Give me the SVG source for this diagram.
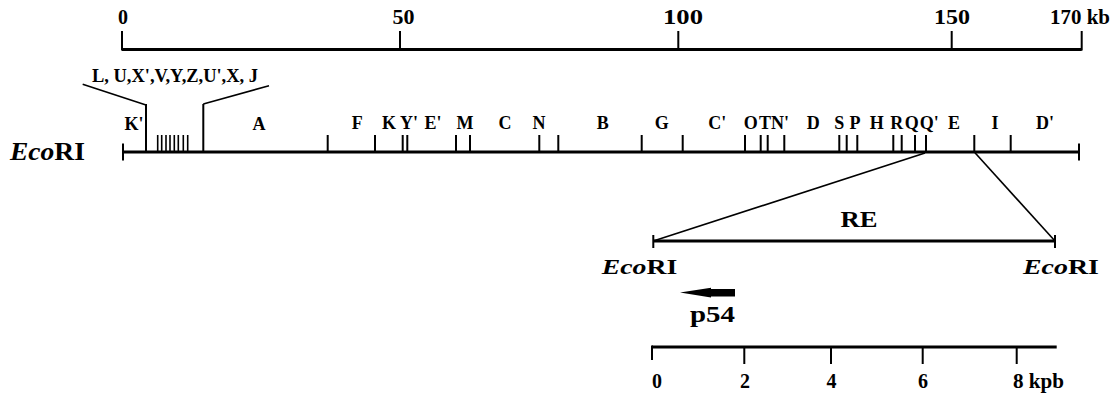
<svg xmlns="http://www.w3.org/2000/svg" width="1120" height="398" viewBox="0 0 1120 398">
  <style>
    .bar { stroke:#000; stroke-width:2.8; fill:none; stroke-linecap:butt; }
    .tick { stroke:#000; stroke-width:2; fill:none; }
    .fine { stroke:#000; stroke-width:1.6; fill:none; }
    .conn { stroke:#000; stroke-width:1.6; fill:none; }
    .lbl { font-family:"Liberation Serif","Times New Roman",serif; font-weight:bold; fill:#000; }
    .frag { font-size:18px; text-anchor:middle; }
    .num { font-size:22px; }
    .numb { font-size:20px; }
  </style>
  <rect width="1120" height="398" fill="#fff"/>

  <!-- genome coordinate scale, 0 to 170 kb -->
  <g id="scale-kb">
    <path class="bar" d="M122 49.5H1081.7"/>
    <path class="tick" d="M122 31V50.5M400 31V50.5M678.3 31V50.5M951.7 31V50.5M1081.7 31V50.5"/>
    <text class="lbl num" x="118" y="23.5" textLength="10" lengthAdjust="spacingAndGlyphs">0</text>
    <text class="lbl num" x="392.5" y="23.5" textLength="22" lengthAdjust="spacingAndGlyphs">50</text>
    <text class="lbl num" x="663" y="23.5" textLength="40" lengthAdjust="spacingAndGlyphs">100</text>
    <text class="lbl num" x="934" y="23.5" textLength="36" lengthAdjust="spacingAndGlyphs">150</text>
    <text class="lbl num" x="1050" y="23.5" textLength="60" lengthAdjust="spacingAndGlyphs">170 kb</text>
  </g>

  <!-- EcoRI restriction map -->
  <g id="ecori-map">
    <text class="lbl" x="10" y="160" font-size="25" textLength="75" lengthAdjust="spacingAndGlyphs"><tspan font-style="italic">Eco</tspan>RI</text>
    <path class="bar" d="M122.5 152H1079.5"/>
    <path class="tick" d="M123 143.5V160.5M1079 143.5V160.5"/>
    <!-- cluster of small fragments -->
    <path class="tick" d="M146 104V152M203.3 104V152"/>
    <path class="fine" d="M157.7 135V152M161.7 135V152M166 135V152M170 135V152M174.3 135V152M178.3 135V152M183.3 135V152M187.7 135V152"/>
    <!-- fragment boundaries -->
    <path class="tick" d="M327.7 135V152M375 135V152M402.7 135V152M407.3 135V152M456 135V152M470 135V152M539.3 135V152M558.3 135V152M641.7 135V152M682.7 135V152M745 135V152M760.7 135V152M767.7 135V152M784.3 135V152M839.3 135V152M846.7 135V152M857.3 135V152M893.3 135V152M901.7 135V152M915 135V152M926 135V152M974.3 135V152M1010.7 135V152"/>
  </g>

  <!-- fragment names -->
  <g id="fragment-labels" class="lbl frag">
    <text x="92" y="81.5" font-size="19" text-anchor="start" textLength="166" lengthAdjust="spacingAndGlyphs">L, U,X',V,Y,Z,U',X, J</text>
    <text x="134" y="130">K'</text>
    <text x="259" y="130">A</text>
    <text x="357.3" y="129">F</text>
    <text x="389" y="129">K</text>
    <text x="409" y="129">Y'</text>
    <text x="433" y="129">E'</text>
    <text x="465" y="129">M</text>
    <text x="505" y="129">C</text>
    <text x="539" y="129">N</text>
    <text x="602.7" y="129">B</text>
    <text x="661.7" y="129">G</text>
    <text x="717.3" y="129">C'</text>
    <text x="750.7" y="129">O</text>
    <text x="765" y="129">T</text>
    <text x="780" y="129">N'</text>
    <text x="813.3" y="129">D</text>
    <text x="839.3" y="129">S</text>
    <text x="855" y="129">P</text>
    <text x="876.7" y="129">H</text>
    <text x="896.7" y="129">R</text>
    <text x="911.7" y="129">Q</text>
    <text x="929.3" y="129">Q'</text>
    <text x="954" y="129">E</text>
    <text x="995" y="129">I</text>
    <text x="1045" y="129">D'</text>
  </g>

  <!-- expansion lines -->
  <g id="connectors">
    <path class="conn" d="M82.7 84.3L146 105"/>
    <path class="conn" d="M203.3 104L269 85.7"/>
    <path class="conn" d="M925 153L653.3 241"/>
    <path class="conn" d="M974.3 152L1055 241"/>
  </g>

  <!-- RE fragment -->
  <g id="re-fragment">
    <path class="bar" d="M653.3 241H1055"/>
    <path class="tick" d="M653.3 235V248M1055 235V248"/>
    <text class="lbl" x="840.5" y="227" font-size="24" textLength="37" lengthAdjust="spacingAndGlyphs">RE</text>
    <text class="lbl" x="601.7" y="274" font-size="22" textLength="75.6" lengthAdjust="spacingAndGlyphs"><tspan font-style="italic">Eco</tspan>RI</text>
    <text class="lbl" x="1023" y="274" font-size="22" textLength="76" lengthAdjust="spacingAndGlyphs"><tspan font-style="italic">Eco</tspan>RI</text>
  </g>

  <!-- p54 transcript direction -->
  <g id="p54">
    <polygon fill="#000" points="680,292.5 711,287.8 711,289 735,289 735,296.4 711,296.4 711,297.4"/>
    <text class="lbl" x="690" y="321.7" font-size="24" textLength="45" lengthAdjust="spacingAndGlyphs">p54</text>
  </g>

  <!-- fragment scale, kpb -->
  <g id="scale-kpb">
    <path class="bar" d="M652 347H1056.7"/>
    <path class="tick" d="M652 345.6V360M744.3 347V364M831 347V364M922.7 347V364M1016.7 347V364"/>
    <text class="lbl numb" x="652" y="388" textLength="10" lengthAdjust="spacingAndGlyphs">0</text>
    <text class="lbl numb" x="740" y="388" textLength="10" lengthAdjust="spacingAndGlyphs">2</text>
    <text class="lbl numb" x="826.5" y="388" textLength="10" lengthAdjust="spacingAndGlyphs">4</text>
    <text class="lbl numb" x="918" y="388" textLength="10" lengthAdjust="spacingAndGlyphs">6</text>
    <text class="lbl numb" x="1013" y="388" textLength="51" lengthAdjust="spacingAndGlyphs">8 kpb</text>
  </g>
</svg>
